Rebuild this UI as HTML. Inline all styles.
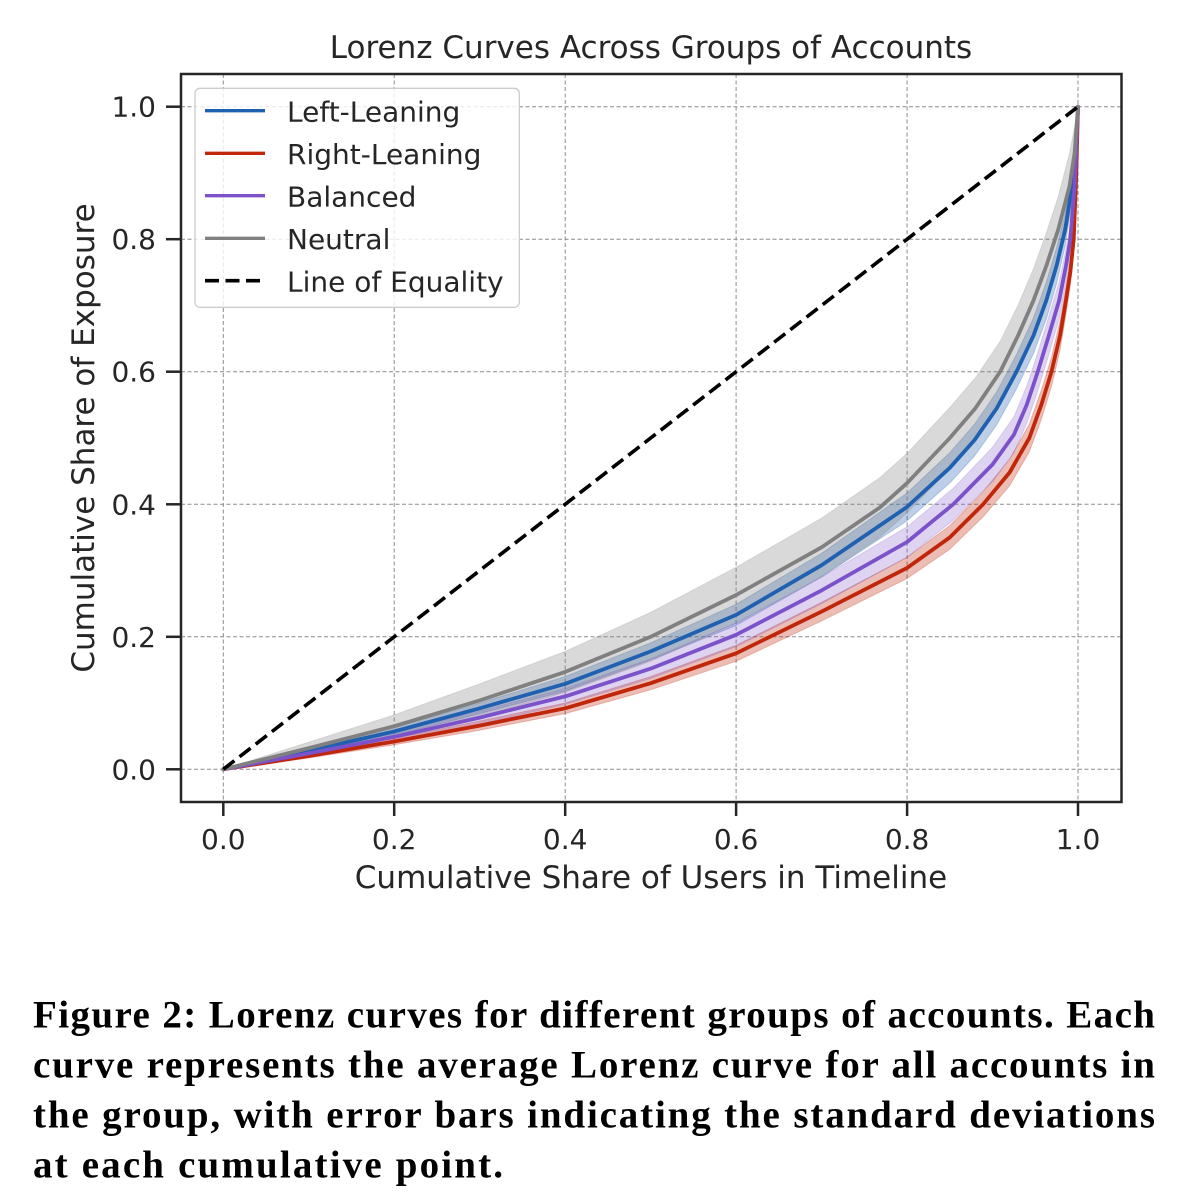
<!DOCTYPE html>
<html>
<head>
<meta charset="utf-8">
<style>
html,body{margin:0;padding:0;background:#fff;}
body{width:1188px;height:1198px;overflow:hidden;}
svg{display:block;}
.t{font-family:"DejaVu Sans","Liberation Sans",sans-serif;fill:#262626;}
.cap{font-family:"Liberation Serif",serif;font-weight:bold;fill:#000;font-size:39px;}
</style>
</head>
<body>
<svg width="1188" height="1198" viewBox="0 0 1188 1198" xmlns="http://www.w3.org/2000/svg">
  <rect x="0" y="0" width="1188" height="1198" fill="#fff"/>

  <!-- Grid -->
  <g stroke="#8c8c8c" stroke-width="1" stroke-dasharray="4,2.5" fill="none">
    <line x1="223.3" y1="74" x2="223.3" y2="802"/>
    <line x1="394.2" y1="74" x2="394.2" y2="802"/>
    <line x1="565.2" y1="74" x2="565.2" y2="802"/>
    <line x1="736.1" y1="74" x2="736.1" y2="802"/>
    <line x1="907.1" y1="74" x2="907.1" y2="802"/>
    <line x1="1078" y1="74" x2="1078" y2="802"/>
    <line x1="181" y1="769.3" x2="1121.5" y2="769.3"/>
    <line x1="181" y1="636.8" x2="1121.5" y2="636.8"/>
    <line x1="181" y1="504.3" x2="1121.5" y2="504.3"/>
    <line x1="181" y1="371.7" x2="1121.5" y2="371.7"/>
    <line x1="181" y1="239.2" x2="1121.5" y2="239.2"/>
    <line x1="181" y1="106.7" x2="1121.5" y2="106.7"/>
  </g>

  <!-- Bands -->
  <polygon fill="#2060b0" fill-opacity="0.3" stroke="#2060b0" stroke-opacity="0.25" stroke-width="1" stroke-linejoin="round"
    points="223.3,769.3 308.8,748.7 394.2,727.5 479.7,703.0 565.2,676.5 650.7,642.8 736.1,604.3 821.6,553.3 907.1,493.0 949.8,452.6 974.6,424.1 996.8,391.6 1016.5,354.5 1033.6,317.4 1046.4,281.6 1056.6,247.8 1065.2,212.7 1072.0,172.9 1076.3,138.5 1078,106.7 1076.3,154.5 1072.0,199.5 1065.2,245.9 1056.6,283.6 1046.4,318.8 1033.6,353.2 1016.5,388.9 996.8,424.8 974.6,455.9 949.8,483.0 907.1,520.8 821.6,577.1 736.1,625.5 650.7,660.0 565.2,691.1 479.7,713.6 394.2,735.5 308.8,752.7"/>
  <polygon fill="#c0260a" fill-opacity="0.3" stroke="#c0260a" stroke-opacity="0.25" stroke-width="1" stroke-linejoin="round"
    points="223.3,769.3 308.8,754.0 394.2,738.2 479.7,721.0 565.2,703.0 650.7,676.6 736.1,645.3 821.6,602.3 907.1,557.3 949.8,525.5 983.1,491.7 1009.6,459.2 1029.3,424.1 1041.3,390.3 1051.5,357.1 1060.1,320.7 1066.0,286.3 1070.3,259.0 1073.7,228.6 1076.3,167.7 1078,106.7 1076.3,178.3 1073.7,249.8 1070.3,285.6 1066.0,314.1 1060.1,349.9 1051.5,386.3 1041.3,419.5 1029.3,451.9 1009.6,485.8 983.1,516.9 949.8,549.3 907.1,578.5 821.6,620.9 736.1,661.3 650.7,689.8 565.2,713.6 479.7,730.2 394.2,744.8 308.8,758.0"/>
  <polygon fill="#7b52c9" fill-opacity="0.25" stroke="#7b52c9" stroke-opacity="0.2" stroke-width="1" stroke-linejoin="round"
    points="223.3,769.3 308.8,750.7 394.2,732.2 479.7,711.0 565.2,688.4 650.7,658.7 736.1,622.9 821.6,577.1 907.1,526.8 953.2,488.4 992.5,447.3 1013.9,416.8 1026.7,386.3 1037.8,352.5 1048.9,316.1 1059.2,281.6 1066.0,249.1 1070.3,224.6 1074.6,176.9 1078,106.7 1074.6,195.5 1070.3,253.8 1066.0,282.3 1059.2,318.8 1048.9,354.5 1037.8,390.9 1026.7,423.5 1013.9,452.6 992.5,481.7 953.2,520.2 907.1,557.2 821.6,603.7 736.1,646.7 650.7,678.5 565.2,704.4 479.7,724.2 394.2,741.4 308.8,756.1"/>
  <polygon fill="#808080" fill-opacity="0.3" stroke="#808080" stroke-opacity="0.2" stroke-width="1" stroke-linejoin="round"
    points="223.3,769.3 308.8,742.1 394.2,714.9 479.7,683.8 565.2,651.4 650.7,612.3 736.1,567.2 821.6,518.1 879.7,477.8 907.1,453.3 949.8,407.5 975.4,377.7 1000.2,341.2 1018.2,304.8 1033.6,268.4 1046.4,232.6 1058.3,196.2 1069.5,153.1 1074.6,126.6 1078,106.7 1074.6,179.6 1069.5,219.3 1058.3,262.4 1046.4,298.8 1033.6,332.0 1018.2,365.8 1000.2,402.2 975.4,438.7 949.8,468.5 907.1,512.9 879.7,537.4 821.6,576.5 736.1,622.8 650.7,661.3 565.2,692.4 479.7,717.0 394.2,737.5 308.8,754.1"/>

  <!-- Mean lines -->
  <g fill="none" stroke-width="3.8" stroke-linejoin="round" stroke-linecap="round">
    <polyline stroke="#2060b0" points="223.3,769.3 308.8,750.7 394.2,731.5 479.7,708.3 565.2,683.8 650.7,651.4 736.1,614.9 821.6,565.2 907.1,506.9 949.8,467.8 974.6,440.0 996.8,408.2 1016.5,371.7 1033.6,335.3 1046.4,300.2 1056.6,265.7 1065.2,229.3 1072.0,186.2 1076.3,146.5 1078,106.7"/>
    <polyline stroke="#c0260a" points="223.3,769.3 308.8,756.0 394.2,741.5 479.7,725.6 565.2,708.3 650.7,683.2 736.1,653.3 821.6,611.6 907.1,567.9 949.8,537.4 983.1,504.3 1009.6,472.5 1029.3,438.0 1041.3,404.9 1051.5,371.7 1060.1,335.3 1066.0,300.2 1070.3,272.3 1073.7,239.2 1076.3,173.0 1078,106.7"/>
    <polyline stroke="#7b52c9" points="223.3,769.3 308.8,753.4 394.2,736.8 479.7,717.6 565.2,696.4 650.7,668.6 736.1,634.8 821.6,590.4 907.1,542.0 953.2,504.3 992.5,464.5 1013.9,434.7 1026.7,404.9 1037.8,371.7 1048.9,335.3 1059.2,300.2 1066.0,265.7 1070.3,239.2 1074.6,186.2 1078,106.7"/>
    <polyline stroke="#808080" points="223.3,769.3 308.8,748.1 394.2,726.2 479.7,700.4 565.2,671.9 650.7,636.8 736.1,595.0 821.6,547.3 879.7,507.6 907.1,483.1 949.8,438.0 975.4,408.2 1000.2,371.7 1018.2,335.3 1033.6,300.2 1046.4,265.7 1058.3,229.3 1069.5,186.2 1074.6,153.1 1078,106.7"/>
  </g>

  <!-- Line of equality -->
  <line x1="223.3" y1="769.3" x2="1078" y2="106.7" stroke="#000" stroke-width="3.6" stroke-dasharray="14,6.5"/>

  <!-- Spines -->
  <rect x="181" y="74" width="940.5" height="728" fill="none" stroke="#262626" stroke-width="2.5"/>

  <!-- Ticks -->
  <g stroke="#262626" stroke-width="2.5">
    <line x1="223.3" y1="803" x2="223.3" y2="816"/>
    <line x1="394.2" y1="803" x2="394.2" y2="816"/>
    <line x1="565.2" y1="803" x2="565.2" y2="816"/>
    <line x1="736.1" y1="803" x2="736.1" y2="816"/>
    <line x1="907.1" y1="803" x2="907.1" y2="816"/>
    <line x1="1078" y1="803" x2="1078" y2="816"/>
    <line x1="166" y1="769.3" x2="180" y2="769.3"/>
    <line x1="166" y1="636.8" x2="180" y2="636.8"/>
    <line x1="166" y1="504.3" x2="180" y2="504.3"/>
    <line x1="166" y1="371.7" x2="180" y2="371.7"/>
    <line x1="166" y1="239.2" x2="180" y2="239.2"/>
    <line x1="166" y1="106.7" x2="180" y2="106.7"/>
  </g>

  <!-- Tick labels -->
  <g class="t" font-size="28" text-anchor="middle">
    <text x="223.3" y="849">0.0</text>
    <text x="394.2" y="849">0.2</text>
    <text x="565.2" y="849">0.4</text>
    <text x="736.1" y="849">0.6</text>
    <text x="907.1" y="849">0.8</text>
    <text x="1078" y="849">1.0</text>
  </g>
  <g class="t" font-size="28" text-anchor="end">
    <text x="156" y="779.3">0.0</text>
    <text x="156" y="646.8">0.2</text>
    <text x="156" y="514.3">0.4</text>
    <text x="156" y="381.7">0.6</text>
    <text x="156" y="249.2">0.8</text>
    <text x="156" y="116.7">1.0</text>
  </g>

  <!-- Title and axis labels -->
  <text class="t" x="651" y="58" font-size="31" text-anchor="middle">Lorenz Curves Across Groups of Accounts</text>
  <text class="t" x="651" y="888" font-size="31" text-anchor="middle">Cumulative Share of Users in Timeline</text>
  <text class="t" font-size="31" text-anchor="middle" transform="translate(94,438) rotate(-90)">Cumulative Share of Exposure</text>

  <!-- Legend -->
  <rect x="195" y="88.3" width="324.3" height="219" rx="5" ry="5" fill="#fff" fill-opacity="0.8" stroke="#cccccc" stroke-width="1.3"/>
  <g stroke-width="3.3" fill="none">
    <line x1="205" y1="110.7" x2="265" y2="110.7" stroke="#2060b0"/>
    <line x1="205" y1="153.3" x2="265" y2="153.3" stroke="#c0260a"/>
    <line x1="205" y1="195.7" x2="265" y2="195.7" stroke="#7b52c9"/>
    <line x1="205" y1="238.3" x2="265" y2="238.3" stroke="#808080"/>
    <line x1="205" y1="280.7" x2="265" y2="280.7" stroke="#000" stroke-width="3.6" stroke-dasharray="14,6.5"/>
  </g>
  <g class="t" font-size="28">
    <text x="287" y="121.5">Left-Leaning</text>
    <text x="287" y="164.1">Right-Leaning</text>
    <text x="287" y="206.5">Balanced</text>
    <text x="287" y="249.1">Neutral</text>
    <text x="287" y="291.5">Line of Equality</text>
  </g>

  <!-- Caption -->
  <text class="cap" x="33" y="1027.3" textLength="1122" lengthAdjust="spacing">Figure 2: Lorenz curves for different groups of accounts. Each</text>
  <text class="cap" x="33" y="1077.3" textLength="1122" lengthAdjust="spacing">curve represents the average Lorenz curve for all accounts in</text>
  <text class="cap" x="33" y="1127.3" textLength="1122" lengthAdjust="spacing">the group, with error bars indicating the standard deviations</text>
  <text class="cap" x="33" y="1177.3" textLength="470" lengthAdjust="spacing">at each cumulative point.</text>
</svg>
</body>
</html>
